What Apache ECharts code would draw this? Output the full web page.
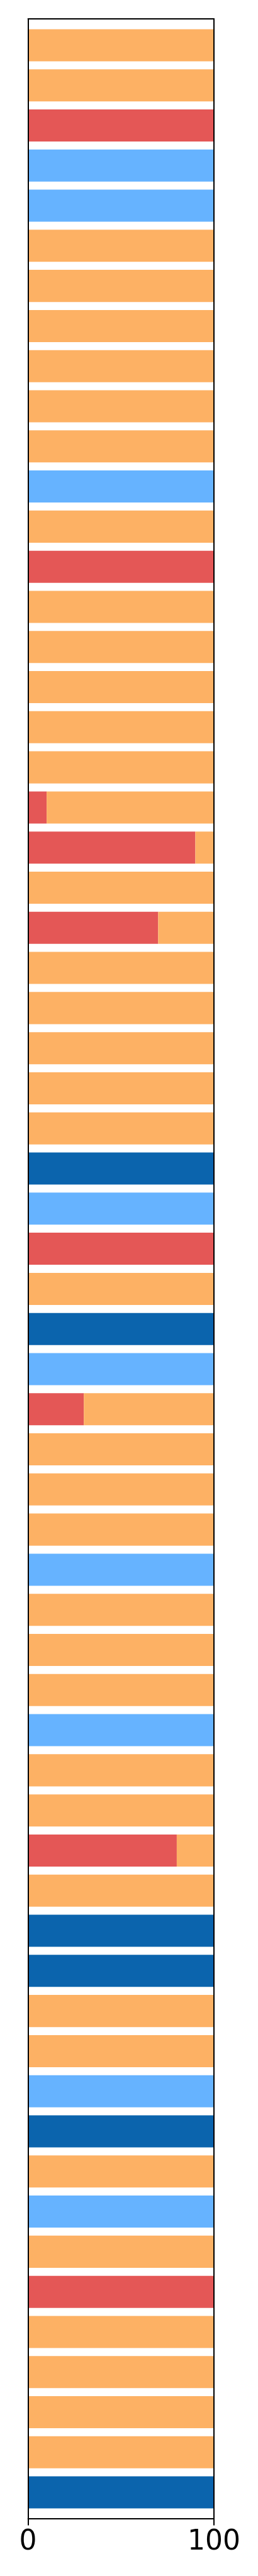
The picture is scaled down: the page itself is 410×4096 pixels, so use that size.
<!DOCTYPE html>
<html>
<head>
<meta charset="utf-8">
<script src="https://cdn.jsdelivr.net/npm/echarts@6.0.0/dist/echarts.min.js"></script>
<style>
html,body{margin:0;padding:0;background:#fff;}
#chart{width:410px;height:4096px;}
</style>
</head>
<body>
<div id="chart"></div>
<script>
// Bars listed top to bottom
var categories = ["1","2","3","4","5","6","7","8","9","10","11","12","13","14","15","16","17","18","19","20","21","22","23","24","25","26","27","28","29","30","31","32","33","34","35","36","37","38","39","40","41","42","43","44","45","46","47","48","49","50","51","52","53","54","55","56","57","58","59","60","61","62"];
var redValues = [0,0,100,0,0,0,0,0,0,0, 0,0,0,100,0,0,0,0,0,10, 90,0,70,0,0,0,0,0,0,0, 100,0,0,0,30,0,0,0,0,0, 0,0,0,0,0,80,0,0,0,0, 0,0,0,0,0,0,100,0,0,0, 0,0];
var orangeValues = [100,100,0,0,0,100,100,100,100,100, 100,0,100,0,100,100,100,100,100,90, 10,100,30,100,100,100,100,100,0,0, 0,100,0,0,70,100,100,100,0,100, 100,100,0,100,100,20,100,0,0,100, 100,0,0,100,0,100,0,100,100,100, 100,0];
var lightBlueValues = [0,0,0,100,100,0,0,0,0,0, 0,100,0,0,0,0,0,0,0,0, 0,0,0,0,0,0,0,0,0,100, 0,0,0,100,0,0,0,0,100,0, 0,0,100,0,0,0,0,0,0,0, 0,100,0,0,100,0,0,0,0,0, 0,0];
var darkBlueValues = [0,0,0,0,0,0,0,0,0,0, 0,0,0,0,0,0,0,0,0,0, 0,0,0,0,0,0,0,0,100,0, 0,0,100,0,0,0,0,0,0,0, 0,0,0,0,0,0,0,100,100,0, 0,0,100,0,0,0,0,0,0,0, 0,100];
var xTicks = [0, 100];

var chart = echarts.init(document.getElementById('chart'), null, {renderer: 'canvas'});
var black = '#000000';
function bar(name, data, color) {
  return {
    name: name, type: 'bar', stack: 'total', data: data,
    xAxisIndex: 2, yAxisIndex: 2,
    barCategoryGap: '20%',
    itemStyle: {color: color},
    emphasis: {disabled: true},
    animation: false
  };
}
chart.setOption({
  animation: false,
  backgroundColor: '#ffffff',
  grid: [
    {left: 44.6, right: 70, top: 40, bottom: 101, outerBoundsMode: 'none', containLabel: false},
    {left: 44.6, right: 70, top: 30, bottom: 91.4, outerBoundsMode: 'none', containLabel: false, show: false}
  ],
  xAxis: [
    {gridIndex: 1, type: 'value', min: xTicks[0], max: xTicks[1], interval: 100, position: 'bottom', z: 10,
     axisLine: {show: true, onZero: false, lineStyle: {color: black, width: 2}},
     axisTick: {show: true, inside: false, length: 11, lineStyle: {color: black, width: 2}},
     axisLabel: {show: true, color: black, fontSize: 44, fontFamily: 'DejaVu Sans', margin: 16},
     splitLine: {show: false}},
    {gridIndex: 1, type: 'value', min: 0, max: 100, position: 'top', z: 10,
     axisLine: {show: true, onZero: false, lineStyle: {color: black, width: 2}},
     axisTick: {show: false}, axisLabel: {show: false}, splitLine: {show: false}},
    {gridIndex: 0, type: 'value', min: 0, max: 100, show: false, splitLine: {show: false}}
  ],
  yAxis: [
    {gridIndex: 1, type: 'value', min: 0, max: 1, position: 'left', z: 10,
     axisLine: {show: true, onZero: false, lineStyle: {color: black, width: 2}},
     axisTick: {show: false}, axisLabel: {show: false}, splitLine: {show: false}},
    {gridIndex: 1, type: 'value', min: 0, max: 1, position: 'right', z: 10,
     axisLine: {show: true, onZero: false, lineStyle: {color: black, width: 2}},
     axisTick: {show: false}, axisLabel: {show: false}, splitLine: {show: false}},
    {gridIndex: 0, type: 'category', data: categories, inverse: true, show: false}
  ],
  series: [
    bar('red', redValues, '#E45756'),
    bar('orange', orangeValues, '#FDB164'),
    bar('lightblue', lightBlueValues, '#66B3FF'),
    bar('darkblue', darkBlueValues, '#0B64AD')
  ]
});
</script>
</body>
</html>
